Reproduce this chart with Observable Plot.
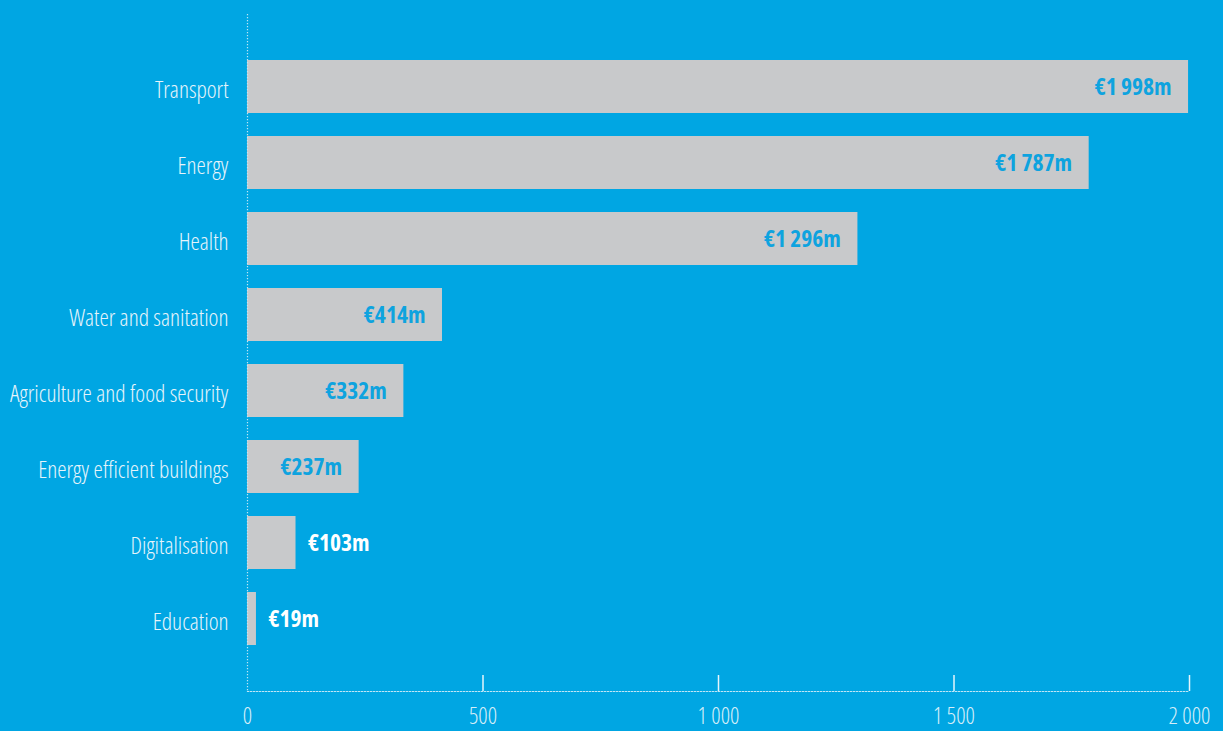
<!DOCTYPE html>
<html>
<head>
<meta charset="utf-8">
<script src="https://cdn.jsdelivr.net/npm/d3@7"></script>
<script src="https://cdn.jsdelivr.net/npm/@observablehq/plot@0.6"></script>
<style>
  html, body { margin: 0; padding: 0; background: #00a6e3; }
  #chart svg { display: block; }
  #chart svg text { font-stretch: 75%; }
</style>
</head>
<body>
<div id="chart"></div>
<script>
const categories = ["Transport", "Energy", "Health", "Water and sanitation", "Agriculture and food security", "Energy efficient buildings", "Digitalisation", "Education"];
const values = [1998, 1787, 1296, 414, 332, 237, 103, 19];
const valueLabels = ["€1 998m", "€1 787m", "€1 296m", "€414m", "€332m", "€237m", "€103m", "€19m"];
const xTicks = [0, 500, 1000, 1500, 2000];
const insideThreshold = 200;

const data = categories.map((c, i) => ({category: c, value: values[i], label: valueLabels[i]}));
const inside = data.filter(d => d.value >= insideThreshold);
const outside = data.filter(d => d.value < insideThreshold);

const fmt = d => d3.formatLocale({thousands: " ", grouping: [3], decimal: ".", currency: ["", ""]}).format(",")(d);
const FONT = "'Open Sans', 'DejaVu Sans Condensed', sans-serif";

const chart = Plot.plot({
  width: 1223,
  height: 731,
  marginLeft: 247,
  marginRight: 34,
  marginTop: 14,
  marginBottom: 40,
  style: {background: "#00a6e3", fontFamily: FONT, overflow: "visible"},
  x: {domain: [0, 2000], axis: null, label: null},
  y: {domain: categories, paddingInner: 0.305, paddingOuter: 0.59, axis: null, label: null},
  marks: [
    Plot.barX(data, {x: "value", y: "category", fill: "#c8c9cb"}),
    Plot.ruleX([0], {stroke: "#bfe6f7", strokeWidth: 1.2, strokeDasharray: "1.2,1.8"}),
    Plot.frame({anchor: "bottom", stroke: "#bfe6f7", strokeWidth: 1.2, strokeDasharray: "1.2,1.8"}),
    Plot.axisX(xTicks.filter(d => d > 0), {anchor: "bottom", tickSize: -16, stroke: "#e6f4fb", strokeWidth: 1.5, text: null, label: null}),
    Plot.axisX(xTicks, {anchor: "bottom", tickSize: 0, tickPadding: 16, tickFormat: fmt, fill: "#d6eef9", fontSize: 23, fontWeight: 300, fontFamily: FONT, label: null}),
    Plot.axisY({anchor: "left", tickSize: 0, tickPadding: 19, fill: "#e6f4fb", fontSize: 23.5, fontWeight: 300, fontFamily: FONT, dy: 3, label: null}),
    Plot.text(inside, {x: "value", y: "category", text: "label", textAnchor: "end", dx: -17, fill: "#0ea3df", fontSize: 23.5, fontWeight: 700, fontFamily: FONT}),
    Plot.text(outside, {x: "value", y: "category", text: "label", textAnchor: "start", dx: 12, fill: "#ffffff", fontSize: 23.5, fontWeight: 700, fontFamily: FONT})
  ]
});
document.getElementById("chart").appendChild(chart);
</script>
</body>
</html>
